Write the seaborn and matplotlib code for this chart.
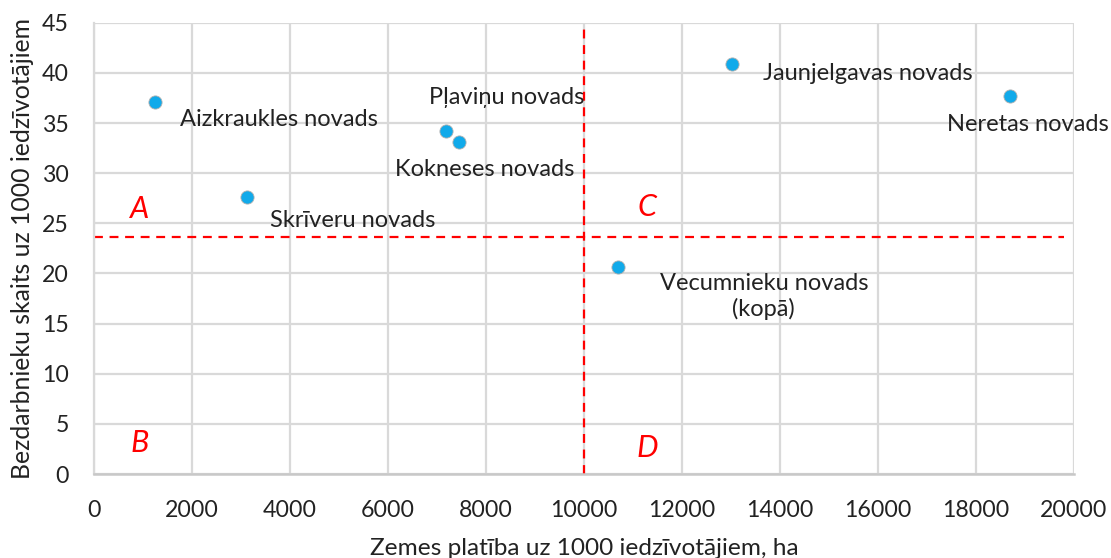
import matplotlib
matplotlib.use("Agg")
import matplotlib.pyplot as plt
import seaborn as sns
import pandas as pd

# Data
regions = ["Aizkraukles novads", "Skrīveru novads", "Pļaviņu novads", "Kokneses novads",
           "Vecumnieku novads\n(kopā)", "Jaunjelgavas novads", "Neretas novads"]
land_area = [1240, 3120, 7180, 7450, 10690, 13030, 18700]
unemployed = [37.1, 27.6, 34.2, 33.1, 20.6, 40.9, 37.7]
label_x = [3780, 5270, 8430, 7980, 13670, 15790, 19060]
label_y = [35.3, 25.25, 37.5, 30.4, 17.7, 39.9, 34.9]

vline_x = [10000, 10000]
vline_y = [0, 45]
hline_x = [0, 19800]
hline_y = [23.6, 23.6]

quad_labels = ["A", "B", "C", "D"]
quad_x = [940, 940, 11290, 11290]
quad_y = [26.4, 3.1, 26.6, 2.6]

x_ticks = list(range(0, 20001, 2000))
y_ticks = list(range(0, 46, 5))

df = pd.DataFrame({"x": land_area, "y": unemployed, "region": regions})

sns.set_style("white")
plt.rcParams["font.family"] = ["Lato", "DejaVu Sans"]

fig = plt.figure(figsize=(11.11, 5.58), dpi=100)
ax = fig.add_axes([0.0846, 0.1505, 0.882, 0.8088])

grid_c = "#d9d9d9"
ax.set_xlim(0, 20000)
ax.set_ylim(0, 45)
ax.set_xticks(x_ticks)
ax.set_yticks(y_ticks)
ax.grid(True, color=grid_c, linewidth=1.6)
ax.set_axisbelow(True)
for s in ["top", "right"]:
    ax.spines[s].set_visible(False)
ax.spines["left"].set_color(grid_c)
ax.spines["left"].set_linewidth(1.6)
ax.spines["bottom"].set_color("#c8c8c8")
ax.spines["bottom"].set_linewidth(1.8)
ax.tick_params(axis="both", length=0, labelsize=16.7, colors="#222222")
ax.tick_params(axis="y", pad=18)
ax.tick_params(axis="x", pad=19)

ax.plot(vline_x, vline_y, color="#ff0000", linestyle=(0, (4, 3)), linewidth=1.6, zorder=2)
ax.plot(hline_x, hline_y, color="#ff0000", linestyle=(0, (4, 3)), linewidth=1.6, zorder=2)

sns.scatterplot(data=df, x="x", y="y", ax=ax, color="#11aaea", s=90,
                edgecolor="#b0b0b0", linewidth=0.6, zorder=3, legend=False)

for name, lx, ly in zip(regions, label_x, label_y):
    ax.text(lx, ly, name, ha="center", va="center", fontsize=17, color="#222222",
            linespacing=1.25, zorder=4)

for q, qx, qy in zip(quad_labels, quad_x, quad_y):
    ax.text(qx, qy, q, ha="center", va="center", fontsize=22, color="#ff0000",
            style="italic", zorder=4)

ax.set_xlabel("Zemes platība uz 1000 iedzīvotājiem, ha", fontsize=17.6, color="#222222", labelpad=12)
ax.set_ylabel("Bezdarbnieku skaits uz 1000 iedzīvotājiem", fontsize=17.8, color="#222222", labelpad=6)

fig.savefig("out.png", dpi=100)
